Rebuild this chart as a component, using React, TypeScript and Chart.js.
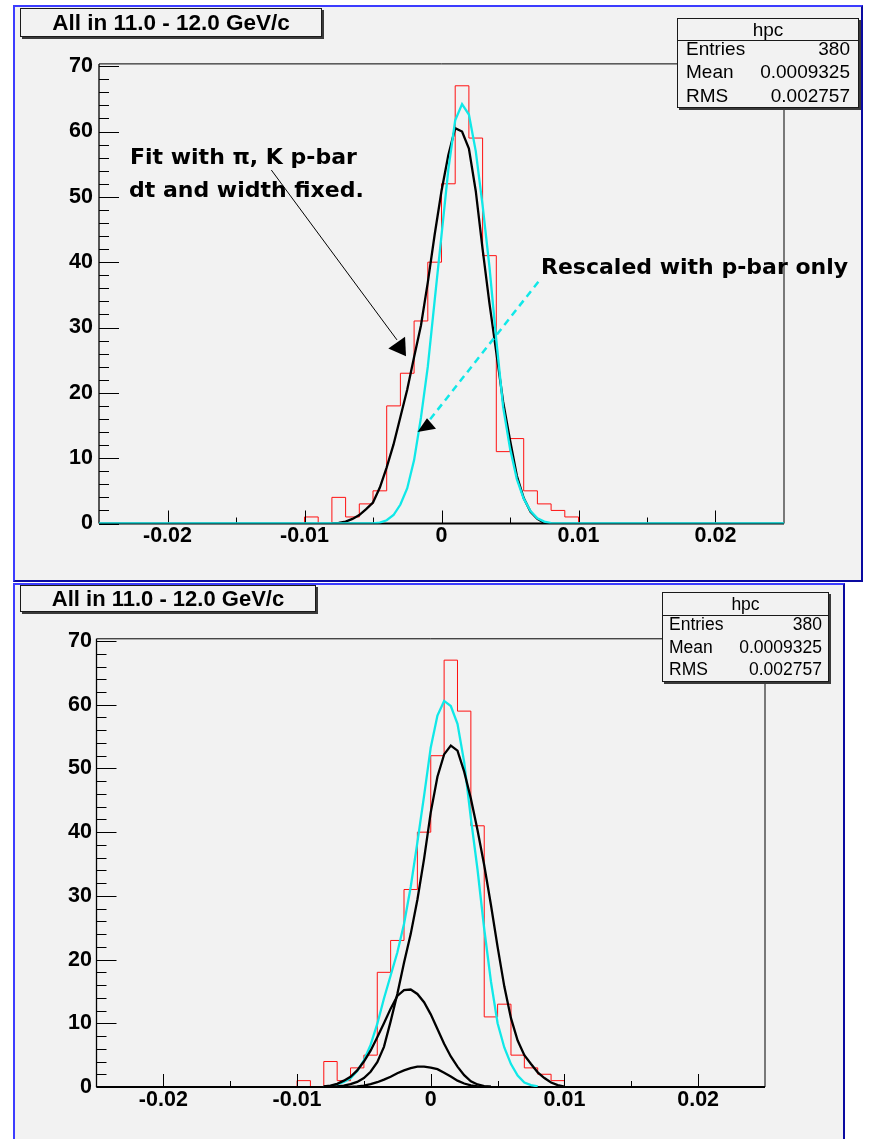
import React, { useEffect, useRef } from 'react';
import { Chart, registerables } from 'chart.js';

Chart.register(...registerables);

// ---------- data ----------
// x positions of the sampled fit functions (ROOT draws TF1 as polyline, step 0.0005)
const X_GRID = [
  -0.025,
  -0.0100, -0.0095, -0.0090, -0.0085, -0.0080, -0.0075, -0.0070, -0.0065, -0.0060, -0.0055,
  -0.0050, -0.0045, -0.0040, -0.0035, -0.0030, -0.0025, -0.0020, -0.0015, -0.0010, -0.0005,
  0.0000, 0.0005, 0.0010, 0.0015, 0.0020, 0.0025, 0.0030, 0.0035, 0.0040, 0.0045,
  0.0050, 0.0055, 0.0060, 0.0065, 0.0070, 0.0075, 0.0080, 0.0085, 0.0090, 0.0095, 0.0100,
  0.025,
];

// top pad: fit with pi, K, p-bar (black)
const TOP_FIT = [
  null,
  null, null, null, null, 0.0, 0.1, 0.3, 0.7, 1.3, 2.2,
  3.2, 5.5, 8.6, 12.1, 16.3, 20.5, 25.5, 30.3, 36.9, 44.2,
  50.9, 56.4, 60.5, 60.0, 57.4, 50.9, 42.0, 33.7, 26.2, 18.6,
  12.8, 7.3, 3.9, 1.8, 0.7, 0.1, 0.0, null, null, null, null,
  null,
];

// top pad: rescaled with p-bar only (cyan)
const TOP_RESCALED = [
  0,
  0, 0, 0, 0, 0, 0, 0, 0, 0, 0,
  0, 0.15, 0.5, 1.3, 2.9, 5.4, 9.7, 16.2, 24.0, 34.1,
  44.1, 54.2, 61.7, 64.2, 62.6, 57.0, 48.7, 39.3, 28.1, 17.8,
  11.5, 6.8, 3.8, 1.9, 0.8, 0.3, 0.05, 0, 0, 0, 0,
  0,
];

// bottom pad: cyan curve
const BOT_RESCALED = [
  null,
  null, null, null, null, 0.05, 0.15, 0.4, 0.8, 1.35, 2.5,
  4.2, 6.6, 9.9, 13.9, 17.5, 21.1, 25.6, 31.4, 38.4, 45.7,
  53.3, 58.3, 60.6, 59.8, 57.0, 51.0, 42.2, 34.1, 24.8, 16.6,
  10.0, 6.2, 3.6, 1.8, 0.7, 0.3, 0.1, null, null, null, null,
  null,
];

// bottom pad: p-bar component (black, large)
const BOT_PBAR = [
  null,
  null, null, null, null, 0.0, 0.03, 0.08, 0.2, 0.45, 0.8,
  1.4, 2.4, 3.9, 6.3, 10.3, 14.6, 19.5, 24.0, 29.4, 35.8,
  43.1, 48.7, 52.2, 53.6, 52.8, 49.5, 45.3, 40.3, 34.8, 28.6,
  22.0, 15.8, 10.8, 7.3, 5.0, 3.6, 2.3, 1.4, 0.7, 0.3, 0.05,
  null,
];

// bottom pad: K component (black, middle)
const BOT_K = [
  null,
  null, null, null, null, 0.1, 0.22, 0.5, 1.0, 1.6, 2.6,
  4.0, 5.7, 7.8, 10.0, 12.3, 14.3, 15.2, 15.3, 14.6, 13.3,
  11.4, 9.1, 6.8, 4.8, 3.2, 1.85, 0.9, 0.4, 0.15, 0.05,
  null, null, null, null, null, null, null, null, null, null, null,
  null,
];

// bottom pad: pi component (black, small)
const BOT_PI = [
  null,
  null, null, null, null, 0.0, 0.0, 0.01, 0.02, 0.03, 0.1,
  0.22, 0.45, 0.75, 1.15, 1.6, 2.15, 2.6, 2.95, 3.2, 3.2,
  3.05, 2.8, 2.25, 1.65, 1.0, 0.55, 0.25, 0.08, 0.02, 0.0,
  null, null, null, null, null, null, null, null, null, null, null,
  null,
];

// histogram hpc (bin width 0.001)
const BIN_LOW = [
  -0.010, -0.009, -0.008, -0.007, -0.006, -0.005, -0.004, -0.003, -0.002, -0.001,
  0.000, 0.001, 0.002, 0.003, 0.004, 0.005, 0.006, 0.007, 0.008, 0.009,
];
const BIN_COUNT = [1, 0, 4, 1, 3, 5, 18, 23, 31, 40, 52, 67, 59, 41, 11, 13, 5, 3, 2, 1];
const BIN_WIDTH = 0.001;

const X_MIN = -0.025;
const X_MAX = 0.025;
const Y_MAX = 70.35;

const X_TICKS = [-0.02, -0.01, 0, 0.01, 0.02];
const X_LABELS = ['-0.02', '-0.01', '0', '0.01', '0.02'];
const X_MINOR = [-0.015, -0.005, 0.005, 0.015];
const Y_TICKS = [0, 10, 20, 30, 40, 50, 60, 70];
const Y_LABELS = ['0', '10', '20', '30', '40', '50', '60', '70'];
const Y_MINOR = [2, 4, 6, 8, 12, 14, 16, 18, 22, 24, 26, 28, 32, 34, 36, 38, 42, 44, 46, 48, 52, 54, 56, 58, 62, 64, 66, 68];

// annotation arrows (data coordinates)
const FIT_ARROW = {
  from: [-0.01242, 54.1],
  to: [-0.00325, 28.1],
  head: [[-0.00388, 26.8], [-0.00266, 28.6], [-0.00259, 25.6]],
};
const RESCALED_ARROW = {
  from: [0.00707, 37.0],
  to: [-0.00096, 15.6],
  head: [[-0.00175, 14.0], [-0.00106, 16.1], [-0.0004, 14.5]],
};

const STATS = [
  ['Entries', '380'],
  ['Mean', '0.0009325'],
  ['RMS', '0.002757'],
];
const TITLE = 'All in 11.0 - 12.0 GeV/c';

// ---------- helpers ----------
const BLACK = '#000000';
const CYAN = '#10e8e8';
const RED = '#ff1010';
const PANEL_BG = '#f2f2f2';

function curve(vals: (number | null)[]) {
  const pts: { x: number; y: number }[] = [];
  X_GRID.forEach((x, i) => {
    const v = vals[i];
    if (v !== null && v !== undefined) pts.push({ x, y: v });
  });
  return pts;
}

function histPoints() {
  const pts = [{ x: X_MIN, y: 0 }];
  BIN_LOW.forEach((x, i) => pts.push({ x, y: BIN_COUNT[i] }));
  pts.push({ x: BIN_LOW[BIN_LOW.length - 1] + BIN_WIDTH, y: 0 });
  pts.push({ x: X_MAX, y: 0 });
  return pts;
}

const framePlugin = {
  id: 'rootFrame',
  afterDatasetDraw(chart: any, args: any) {
    if (args.index !== 0) return;
    const { ctx, chartArea } = chart;
    const xs = chart.scales.x;
    const ys = chart.scales.y;
    const { left, right, top, bottom } = chartArea;
    ctx.save();
    ctx.strokeStyle = BLACK;
    ctx.lineWidth = 1;
    ctx.beginPath();
    ctx.moveTo(left, top);
    ctx.lineTo(right, top);
    ctx.lineTo(right, bottom);
    ctx.stroke();
    ctx.lineWidth = 1.3;
    ctx.beginPath();
    ctx.moveTo(left, top);
    ctx.lineTo(left, bottom);
    ctx.stroke();
    ctx.lineWidth = 2;
    ctx.beginPath();
    ctx.moveTo(left, bottom);
    ctx.lineTo(right, bottom);
    ctx.stroke();
    ctx.lineWidth = 1;
    ctx.beginPath();
    X_TICKS.forEach((v) => {
      const p = Math.round(xs.getPixelForValue(v)) + 0.5;
      ctx.moveTo(p, bottom);
      ctx.lineTo(p, bottom - 13);
    });
    X_MINOR.forEach((v) => {
      const p = Math.round(xs.getPixelForValue(v)) + 0.5;
      ctx.moveTo(p, bottom);
      ctx.lineTo(p, bottom - 6);
    });
    Y_TICKS.forEach((v) => {
      const p = Math.round(ys.getPixelForValue(v)) + 0.5;
      ctx.moveTo(left, p);
      ctx.lineTo(left + 20, p);
    });
    Y_MINOR.forEach((v) => {
      const p = Math.round(ys.getPixelForValue(v)) + 0.5;
      ctx.moveTo(left, p);
      ctx.lineTo(left + 10, p);
    });
    ctx.stroke();
    ctx.restore();
  },
};

const arrowPlugin = {
  id: 'rootArrows',
  afterDatasetsDraw(chart: any, _args: any, opts: any) {
    if (!opts || !opts.enabled) return;
    const { ctx } = chart;
    const xs = chart.scales.x;
    const ys = chart.scales.y;
    const P = (p: number[]) => [xs.getPixelForValue(p[0]), ys.getPixelForValue(p[1])];
    ctx.save();
    // black solid arrow
    let a = P(FIT_ARROW.from);
    let b = P(FIT_ARROW.to);
    ctx.strokeStyle = BLACK;
    ctx.lineWidth = 1;
    ctx.beginPath();
    ctx.moveTo(a[0], a[1]);
    ctx.lineTo(b[0], b[1]);
    ctx.stroke();
    ctx.fillStyle = BLACK;
    ctx.beginPath();
    FIT_ARROW.head.forEach((h, i) => {
      const q = P(h);
      if (i === 0) ctx.moveTo(q[0], q[1]);
      else ctx.lineTo(q[0], q[1]);
    });
    ctx.closePath();
    ctx.fill();
    // cyan dashed arrow
    a = P(RESCALED_ARROW.from);
    b = P(RESCALED_ARROW.to);
    ctx.strokeStyle = CYAN;
    ctx.lineWidth = 2.5;
    ctx.setLineDash([7, 5]);
    ctx.beginPath();
    ctx.moveTo(a[0], a[1]);
    ctx.lineTo(b[0], b[1]);
    ctx.stroke();
    ctx.setLineDash([]);
    ctx.beginPath();
    RESCALED_ARROW.head.forEach((h, i) => {
      const q = P(h);
      if (i === 0) ctx.moveTo(q[0], q[1]);
      else ctx.lineTo(q[0], q[1]);
    });
    ctx.closePath();
    ctx.fill();
    ctx.restore();
  },
};

type PadProps = {
  top: number;
  height: number;
  padTop: number;
  padRight: number;
  yWidth: number;
  xHeight: number;
  yLabelPad: number;
  datasets: any[];
  arrows: boolean;
};

function RootPad(props: PadProps) {
  const ref = useRef<HTMLCanvasElement | null>(null);
  useEffect(() => {
    if (!ref.current) return;
    const tickFont = { family: '"Liberation Sans", Arial, sans-serif', weight: 'bold' as const, size: 21.5 };
    const chart = new Chart(ref.current, {
      type: 'line',
      data: { datasets: props.datasets },
      options: {
        responsive: false,
        animation: false,
        events: [],
        layout: { padding: { left: 0, top: props.padTop, right: props.padRight, bottom: 0 } },
        elements: { point: { radius: 0 }, line: { tension: 0 } },
        plugins: {
          legend: { display: false },
          tooltip: { enabled: false },
          title: { display: false },
          rootArrows: { enabled: props.arrows },
        } as any,
        scales: {
          x: {
            type: 'linear',
            min: X_MIN,
            max: X_MAX,
            grid: { display: false, drawTicks: false },
            border: { display: false },
            afterBuildTicks: (s: any) => {
              s.ticks = X_TICKS.map((v) => ({ value: v }));
            },
            afterFit: (s: any) => {
              s.height = props.xHeight;
            },
            ticks: {
              autoSkip: false,
              maxRotation: 0,
              minRotation: 0,
              padding: 0,
              color: BLACK,
              font: tickFont,
              callback: (v: any) => X_LABELS[X_TICKS.indexOf(Number(v))] ?? '',
            },
          },
          y: {
            type: 'linear',
            min: 0,
            max: Y_MAX,
            grid: { display: false, drawTicks: false },
            border: { display: false },
            afterBuildTicks: (s: any) => {
              s.ticks = Y_TICKS.map((v) => ({ value: v }));
            },
            afterFit: (s: any) => {
              s.width = props.yWidth;
            },
            ticks: {
              autoSkip: false,
              padding: props.yLabelPad,
              color: BLACK,
              font: tickFont,
              callback: (v: any) => Y_LABELS[Y_TICKS.indexOf(Number(v))] ?? '',
            },
          },
        },
      },
      plugins: [framePlugin, arrowPlugin],
    });
    return () => chart.destroy();
  }, []);
  return (
    <canvas
      ref={ref}
      width={871}
      height={props.height}
      style={{ position: 'absolute', left: 0, top: props.top, width: 871, height: props.height }}
    />
  );
}

function histDataset() {
  return {
    data: histPoints(),
    borderColor: RED,
    borderWidth: 1,
    stepped: 'before',
    fill: false,
    pointRadius: 0,
    order: 10,
  };
}

function lineDataset(vals: (number | null)[], color: string, order: number) {
  return {
    data: curve(vals),
    borderColor: color,
    borderWidth: 2.3,
    fill: false,
    pointRadius: 0,
    tension: 0,
    order,
  };
}

const titleFont = '"Liberation Sans", Arial, sans-serif';
const annFont = '"DejaVu Sans", Verdana, sans-serif';

function TitleBox({ left, top, width, height, size }: any) {
  return (
    <div
      style={{
        position: 'absolute',
        left,
        top,
        width,
        height,
        boxSizing: 'border-box',
        border: '1px solid #1a1a1a',
        background: PANEL_BG,
        boxShadow: '2px 2px 0 #3a3a3a',
        font: `bold ${size}px ${titleFont}`,
        color: BLACK,
        display: 'flex',
        alignItems: 'center',
        justifyContent: 'center',
        whiteSpace: 'nowrap',
      }}
    >
      {TITLE}
    </div>
  );
}

function StatsBox({ left, top, width, height, size, divider, rows, pad }: any) {
  return (
    <div
      style={{
        position: 'absolute',
        left,
        top,
        width,
        height,
        boxSizing: 'border-box',
        border: '1px solid #1a1a1a',
        background: PANEL_BG,
        boxShadow: '2px 2px 0 #3a3a3a',
        font: `${size}px ${titleFont}`,
        color: BLACK,
      }}
    >
      <div style={{ position: 'absolute', left: 0, right: 0, top: 0, height: divider, textAlign: 'center', lineHeight: `${divider}px` }}>
        hpc
      </div>
      <div style={{ position: 'absolute', left: 0, right: 0, top: divider, height: 0, borderTop: '1px solid #1a1a1a' }} />
      {STATS.map((r, i) => (
        <div
          key={r[0]}
          style={{
            position: 'absolute',
            left: pad,
            right: pad,
            top: rows[i] - 11,
            height: 22,
            lineHeight: '22px',
            display: 'flex',
            justifyContent: 'space-between',
            whiteSpace: 'nowrap',
          }}
        >
          <span>{r[0]}</span>
          <span>{r[1]}</span>
        </div>
      ))}
    </div>
  );
}

function Ann({ left, top, text }: any) {
  return (
    <div
      style={{
        position: 'absolute',
        left,
        top,
        font: `bold 22px ${annFont}`,
        lineHeight: '22px',
        color: BLACK,
        whiteSpace: 'nowrap',
      }}
    >
      {text}
    </div>
  );
}

export default function App() {
  const topDatasets = [histDataset(), lineDataset(TOP_FIT, BLACK, 5), lineDataset(TOP_RESCALED, CYAN, 1)];
  const botDatasets = [
    histDataset(),
    lineDataset(BOT_PBAR, BLACK, 2),
    lineDataset(BOT_K, BLACK, 2),
    lineDataset(BOT_PI, BLACK, 2),
    lineDataset(BOT_RESCALED, CYAN, 5),
  ];
  return (
    <div style={{ position: 'absolute', left: 0, top: 0, width: 871, height: 1139, overflow: 'hidden', background: '#ffffff' }}>
      {/* top pad background */}
      <div
        style={{
          position: 'absolute',
          left: 13,
          top: 5,
          width: 850,
          height: 577,
          boxSizing: 'border-box',
          background: PANEL_BG,
          borderTop: '2px solid #3c3cff',
          borderLeft: '2px solid #3c3cff',
          borderRight: '2px solid #0a0aa0',
          borderBottom: '2px solid #0a0aa0',
        }}
      />
      {/* bottom pad background */}
      <div
        style={{
          position: 'absolute',
          left: 13,
          top: 583,
          width: 832,
          height: 580,
          boxSizing: 'border-box',
          background: PANEL_BG,
          borderTop: '2px solid #3c3cff',
          borderLeft: '2px solid #3c3cff',
          borderRight: '2px solid #0a0aa0',
          borderBottom: '2px solid #0a0aa0',
        }}
      />
      <RootPad top={0} height={582} padTop={63.9} padRight={87} yWidth={99} xHeight={58.5} yLabelPad={6} datasets={topDatasets} arrows={true} />
      <RootPad top={582} height={557} padTop={56.8} padRight={106} yWidth={96.5} xHeight={52} yLabelPad={4.5} datasets={botDatasets} arrows={false} />

      <TitleBox left={20} top={8} width={302} height={29} size={22.5} />
      <StatsBox left={677} top={18} width={182} height={90} size={19} divider={21} rows={[30, 53, 77]} pad={8} />
      <Ann left={130} top={146.4} text="Fit with π, K p-bar" />
      <Ann left={129} top={179.4} text="dt and width fixed." />
      <Ann left={541} top={256.4} text="Rescaled with p-bar only" />

      <TitleBox left={20} top={585} width={296} height={27} size={22} />
      <StatsBox left={662} top={592} width={167} height={90} size={17.5} divider={22} rows={[31, 54, 76]} pad={6} />
    </div>
  );
}
